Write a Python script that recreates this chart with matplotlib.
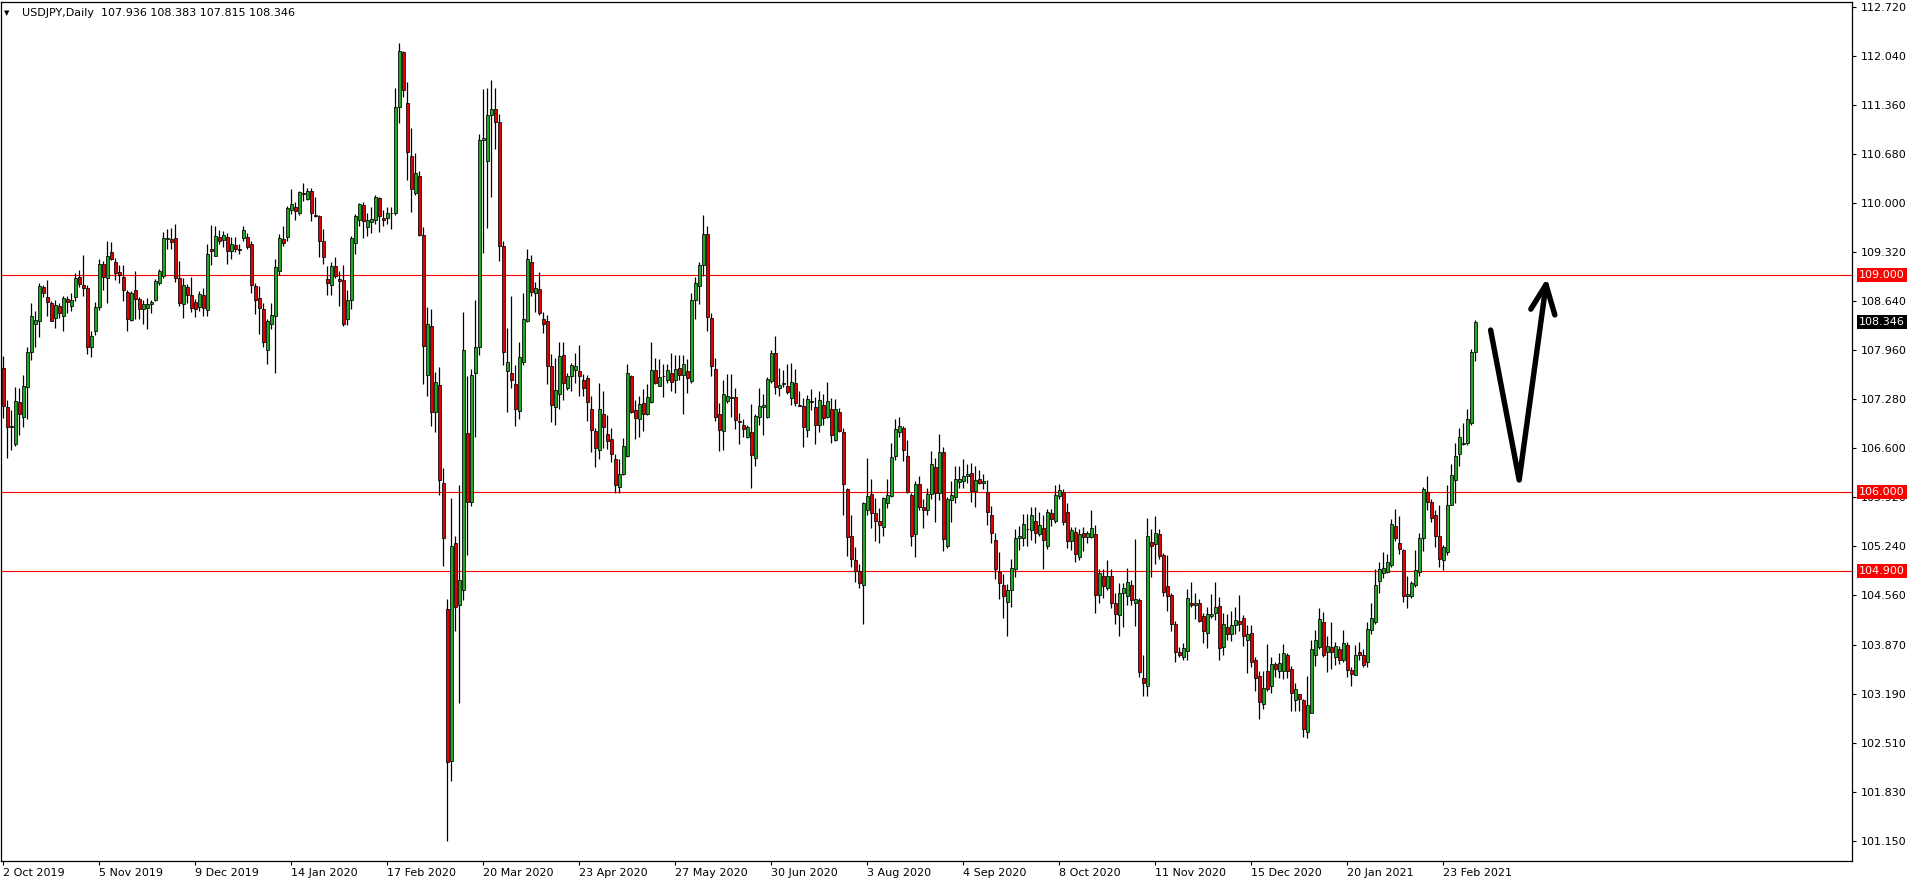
#!/usr/bin/env python
"""USDJPY daily candles (Oct 2019 - Mar 2021), MT4-style chart with S/R levels."""
import matplotlib

matplotlib.use("Agg")
import matplotlib.pyplot as plt
import numpy as np
import pandas as pd

# --- data (one entry per daily bar) ---
open_ = [
    107.71, 107.17, 106.89, 106.66, 107.24, 107.03, 107.45, 107.94, 108.33, 108.37,
    108.84, 108.70, 108.61, 108.41, 108.57, 108.44, 108.67, 108.58, 108.70, 108.98,
    108.86, 108.83, 108.00, 108.22, 108.56, 109.15, 108.96, 109.32, 109.18, 109.05,
    108.98, 108.77, 108.38, 108.79, 108.67, 108.53, 108.54, 108.60, 108.66, 108.89,
    108.99, 109.50, 109.50, 109.51, 108.96, 108.60, 108.84, 108.73,
    108.63, 108.56, 108.72, 108.52, 109.36, 109.27, 109.53, 109.49, 109.53, 109.33,
    109.42, 109.36, 109.51, 109.53, 109.43, 108.85, 108.68, 108.53, 107.97, 108.32,
    108.43, 109.06, 109.50, 109.53, 109.90, 109.95, 109.86, 110.14, 110.06, 110.17,
    109.83, 109.82, 109.47, 108.95, 108.86, 109.13, 108.95, 108.93, 108.39, 108.66,
    109.45, 109.76, 109.97, 109.67, 109.74, 109.77,
    110.07, 109.80, 109.80, 109.86, 109.86, 111.33, 112.09, 111.39, 110.65, 110.14,
    110.37, 109.56, 107.62, 108.29, 107.11, 107.48, 106.12, 104.37, 102.26, 105.29,
    104.42, 104.64, 106.81, 105.85, 107.64, 108.00, 110.88, 110.58, 111.22, 111.31,
    111.13, 109.40, 107.67, 107.65, 107.49, 107.12, 107.80, 108.36, 109.18, 108.75,
    108.81, 108.40, 108.37, 107.74, 107.17, 107.35, 107.89,
    107.44, 107.60, 107.68, 107.67, 107.55, 107.57, 107.14, 106.84, 106.58, 107.07,
    106.80, 106.73, 106.45, 106.07, 106.25, 106.50, 107.60, 107.13, 107.00, 107.23,
    107.07, 107.24, 107.68, 107.47, 107.60, 107.55, 107.64, 107.55, 107.71, 107.61,
    107.67, 107.53, 108.65, 108.85, 109.14, 109.57, 108.41, 107.70, 107.07, 106.84,
    107.25, 107.31, 107.31, 106.98, 106.93, 106.75,
    106.82, 106.47, 107.04, 107.17, 107.03, 107.54, 107.92, 107.43, 107.49, 107.46,
    107.30, 107.50, 107.20, 107.18, 106.86, 107.24, 107.17, 106.92, 107.20, 107.03,
    107.14, 106.72, 107.11, 106.82, 106.03, 105.39, 105.05, 104.90, 104.70, 105.74,
    105.96, 105.70, 105.59, 105.51, 105.84, 105.94, 106.50, 106.82, 106.88, 106.50,
    105.95, 105.41, 106.10, 105.78, 105.75, 105.96,
    106.34, 105.98, 106.55, 105.25, 105.88, 105.93, 106.13, 106.15, 106.22, 106.26,
    106.01, 106.17, 106.12, 106.00, 105.67, 105.33, 104.89, 104.71, 104.47, 104.63,
    104.92, 105.35, 105.36, 105.48, 105.46, 105.59, 105.41, 105.49, 105.25, 105.70,
    105.59, 105.94, 105.99, 105.71, 105.31, 105.44, 105.09, 105.42, 105.37, 105.37,
    105.41, 104.56, 104.83, 104.66, 104.83, 104.45, 104.29,
    104.59, 104.55, 104.71, 104.45, 104.49, 103.41, 103.31, 105.30, 105.27, 105.41,
    105.12, 104.69, 104.56, 104.17, 103.78, 103.71, 103.79, 104.46, 104.42, 104.45,
    104.27, 104.04, 104.27, 104.31, 104.41, 103.84, 104.12, 104.02, 104.15, 104.20,
    104.24, 103.94, 104.04, 103.66, 103.44, 103.06, 103.51, 103.30, 103.61, 103.51,
    103.51, 103.74, 103.54, 103.11, 103.19, 103.11,
    102.66, 102.93, 103.74, 103.85, 104.19, 103.77, 103.84, 103.70, 103.81, 103.67,
    103.87, 103.53, 103.45, 103.78, 103.73, 103.63, 104.08, 104.19, 104.76, 104.87,
    104.89, 104.98, 105.52, 105.28, 105.19, 104.55, 104.55, 104.70, 104.89, 105.35,
    105.99, 105.85, 105.67, 105.38, 105.05, 105.16, 105.81, 106.16, 106.52, 106.66,
    106.67, 106.95, 107.936,
]
high = [
    107.88, 107.27, 107.13, 107.45, 107.43, 107.62, 108.01, 108.61, 108.51, 108.89,
    108.87, 108.94, 108.64, 108.66, 108.61, 108.71, 108.71, 108.76, 109.03, 109.07,
    109.28, 108.87, 108.22, 108.63, 109.22, 109.20, 109.47, 109.46, 109.24, 109.14,
    109.14, 108.80, 108.78, 109.06, 108.70, 108.66, 108.68, 108.65, 108.95, 109.08,
    109.60, 109.64, 109.65, 109.71, 109.20, 108.96, 108.88, 108.98,
    108.67, 108.78, 108.83, 109.43, 109.70, 109.68, 109.63, 109.61, 109.59, 109.53,
    109.53, 109.43, 109.68, 109.59, 109.47, 108.89, 108.85, 108.61, 108.40, 108.61,
    109.22, 109.57, 109.68, 109.96, 110.20, 110.01, 110.17, 110.28, 110.21, 110.21,
    110.09, 109.83, 109.64, 109.13, 109.18, 109.25, 109.06, 109.14, 108.79, 109.54,
    109.85, 110.00, 110.01, 109.86, 109.95, 110.12,
    110.09, 109.91, 109.95, 109.95, 111.60, 112.22, 112.11, 111.68, 111.04, 110.69,
    110.45, 109.67, 108.56, 108.53, 107.66, 107.73, 106.32, 104.51, 105.91, 105.38,
    106.09, 108.49, 107.60, 107.70, 108.65, 110.96, 111.58, 111.60, 111.71, 111.60,
    111.24, 109.47, 108.27, 108.71, 107.76, 108.08, 108.75, 109.36, 109.28, 108.91,
    109.05, 108.49, 108.45, 107.91, 107.85, 108.07, 108.07,
    107.64, 107.78, 107.92, 108.03, 107.63, 107.62, 107.32, 106.88, 107.50, 107.39,
    107.06, 106.88, 106.52, 106.45, 106.74, 107.77, 107.61, 107.27, 107.32, 107.42,
    107.49, 108.08, 107.85, 107.84, 107.77, 107.77, 107.92, 107.89, 107.89, 107.89,
    107.84, 108.75, 108.97, 109.18, 109.84, 109.68, 108.47, 107.85, 107.23, 107.55,
    107.63, 107.63, 107.43, 107.09, 107.01, 106.93,
    107.22, 107.07, 107.43, 107.35, 107.59, 107.97, 108.16, 107.71, 107.69, 107.77,
    107.78, 107.70, 107.39, 107.30, 107.34, 107.42, 107.31, 107.39, 107.35, 107.52,
    107.30, 107.28, 107.16, 106.88, 106.05, 105.67, 105.23, 105.00, 105.86, 106.47,
    106.18, 105.91, 105.77, 105.92, 106.18, 106.67, 107.01, 107.03, 106.91, 106.72,
    105.98, 106.15, 106.21, 105.89, 106.05, 106.56,
    106.46, 106.80, 106.62, 105.92, 106.14, 106.35, 106.35, 106.45, 106.38, 106.40,
    106.36, 106.30, 106.25, 106.16, 105.80, 105.42, 105.16, 104.85, 104.72, 105.06,
    105.48, 105.52, 105.69, 105.69, 105.79, 105.79, 105.71, 105.67, 105.76, 105.76,
    106.09, 106.11, 106.03, 105.84, 105.51, 105.51, 105.48, 105.51, 105.45, 105.74,
    105.53, 104.92, 104.92, 105.05, 104.92, 104.59, 104.73,
    104.73, 104.94, 104.78, 105.34, 104.53, 103.74, 105.63, 105.48, 105.66, 105.48,
    105.15, 105.12, 104.59, 104.20, 103.84, 103.90, 104.65, 104.74, 104.59, 104.51,
    104.31, 104.40, 104.58, 104.74, 104.54, 104.31, 104.30, 104.35, 104.40, 104.56,
    104.29, 104.15, 104.15, 103.71, 103.51, 103.51, 103.88, 103.71, 103.64, 103.76,
    103.88, 103.76, 103.58, 103.34, 103.19, 103.12,
    103.44, 103.94, 104.08, 104.39, 104.33, 104.00, 104.19, 103.91, 103.86, 104.08,
    103.91, 103.57, 103.87, 103.92, 103.81, 104.19, 104.46, 104.92, 105.02, 105.16,
    105.14, 105.62, 105.76, 105.66, 105.21, 104.83, 104.76, 105.19, 105.42, 106.07,
    106.21, 105.89, 105.74, 105.82, 105.26, 106.09, 106.38, 106.67, 106.88, 106.95,
    107.14, 107.98, 108.383,
]
low = [
    107.02, 106.47, 106.58, 106.63, 106.79, 106.90, 107.01, 107.83, 108.01, 108.14,
    108.70, 108.43, 108.36, 108.27, 108.41, 108.23, 108.48, 108.51, 108.64, 108.84,
    108.71, 107.91, 107.87, 108.17, 108.52, 108.80, 108.62, 109.21, 108.94, 108.89,
    108.64, 108.22, 108.36, 108.40, 108.40, 108.33, 108.26, 108.47, 108.64, 108.86,
    108.96, 109.37, 109.36, 108.90, 108.58, 108.41, 108.61, 108.49,
    108.42, 108.50, 108.43, 108.44, 109.14, 109.27, 109.43, 109.39, 109.16, 109.23,
    109.32, 109.29, 109.48, 109.37, 108.75, 108.46, 108.19, 108.01, 107.77, 108.25,
    107.65, 109.00, 109.41, 109.48, 109.85, 109.77, 109.83, 110.03, 110.05, 109.75,
    109.81, 109.25, 109.15, 108.72, 108.73, 108.96, 108.57, 108.29, 108.31, 108.53,
    109.29, 109.69, 109.52, 109.54, 109.59, 109.71,
    109.60, 109.69, 109.71, 109.64, 109.84, 111.11, 111.47, 110.32, 109.88, 110.11,
    109.55, 107.49, 107.33, 106.91, 106.82, 105.95, 104.97, 101.15, 101.98, 104.07,
    103.07, 104.49, 105.12, 105.80, 106.75, 107.90, 109.31, 109.65, 110.08, 110.75,
    109.20, 107.76, 107.11, 107.44, 106.91, 107.00, 107.76, 108.35, 108.71, 108.49,
    108.45, 108.20, 107.49, 106.96, 106.93, 107.15, 107.27,
    107.41, 107.40, 107.50, 107.33, 107.33, 106.98, 106.55, 106.34, 106.45, 106.60,
    106.59, 106.41, 105.98, 105.98, 106.23, 106.48, 107.09, 106.73, 106.76, 106.84,
    107.06, 107.23, 107.49, 107.46, 107.31, 107.50, 107.39, 107.37, 107.55, 107.07,
    107.37, 107.50, 108.40, 108.60, 108.99, 108.22, 107.60, 106.98, 106.56, 106.57,
    107.23, 107.04, 106.87, 106.66, 106.75, 106.74,
    106.05, 106.36, 106.92, 106.78, 107.02, 107.50, 107.35, 107.32, 107.45, 107.36,
    107.20, 107.18, 107.18, 106.62, 106.76, 107.13, 106.66, 106.83, 106.93, 107.02,
    106.67, 106.70, 106.82, 105.67, 105.10, 104.95, 104.74, 104.66, 104.17, 105.68,
    105.49, 105.31, 105.28, 105.39, 105.77, 105.93, 106.44, 106.76, 106.42, 105.98,
    105.25, 105.09, 105.75, 105.49, 105.67, 105.89,
    105.58, 105.88, 105.18, 105.22, 105.58, 105.84, 106.05, 106.05, 106.12, 105.85,
    105.78, 106.11, 106.04, 105.53, 105.28, 104.79, 104.51, 104.25, 103.99, 104.40,
    104.82, 105.19, 105.25, 105.25, 105.33, 105.28, 105.39, 104.93, 105.20, 105.52,
    105.57, 105.89, 105.53, 105.22, 105.19, 105.02, 105.05, 105.17, 105.28, 105.35,
    104.32, 104.46, 104.52, 104.64, 104.38, 104.17, 104.00,
    104.12, 104.42, 104.42, 104.13, 103.43, 103.16, 103.17, 104.81, 104.99, 105.06,
    104.55, 104.35, 104.06, 103.64, 103.71, 103.67, 103.67, 104.40, 104.23, 104.19,
    103.90, 103.83, 104.24, 104.22, 103.66, 103.73, 103.94, 103.93, 104.02, 104.06,
    103.86, 103.49, 103.57, 103.24, 102.85, 102.99, 103.24, 103.20, 103.43, 103.41,
    103.40, 103.41, 102.95, 102.95, 102.95, 102.59,
    102.58, 102.93, 103.58, 103.82, 103.70, 103.50, 103.54, 103.60, 103.61, 103.64,
    103.43, 103.31, 103.45, 103.67, 103.57, 103.56, 104.03, 104.17, 104.59, 104.80,
    104.87, 104.96, 105.32, 105.14, 104.47, 104.39, 104.53, 104.67, 104.83, 105.17,
    105.75, 105.58, 105.23, 104.96, 104.91, 105.12, 105.81, 105.84, 106.35, 106.64,
    106.64, 106.92, 107.815,
]
close = [
    107.18, 106.89, 106.91, 107.25, 107.07, 107.46, 107.93, 108.43, 108.38, 108.85,
    108.75, 108.63, 108.37, 108.59, 108.47, 108.69, 108.63, 108.65, 108.96, 108.88,
    108.83, 108.00, 108.16, 108.56, 109.15, 108.97, 109.27, 109.22, 109.03, 109.01,
    108.79, 108.39, 108.75, 108.67, 108.53, 108.60, 108.60, 108.63, 108.92, 109.06,
    109.51, 109.51, 109.46, 108.96, 108.62, 108.86, 108.73, 108.54,
    108.53, 108.74, 108.54, 109.29, 109.33, 109.54, 109.47, 109.56, 109.33, 109.43,
    109.37, 109.35, 109.63, 109.39, 108.86, 108.65, 108.54, 108.07, 108.36, 108.45,
    109.11, 109.51, 109.45, 109.93, 109.99, 109.89, 110.15, 110.13, 110.17, 109.86,
    109.82, 109.47, 109.25, 108.89, 109.13, 108.99, 108.92, 108.32, 108.66, 109.52,
    109.82, 109.99, 109.75, 109.77, 109.78, 110.08,
    109.82, 109.76, 109.87, 109.87, 111.34, 112.11, 111.57, 110.71, 110.20, 110.42,
    109.56, 108.02, 108.33, 107.11, 107.52, 106.16, 105.35, 102.25, 105.24, 104.40,
    104.78, 107.97, 105.85, 107.62, 108.00, 110.88, 110.91, 111.22, 111.31, 111.12,
    109.41, 107.93, 107.80, 107.55, 107.15, 107.86, 108.40, 109.23, 108.77, 108.82,
    108.47, 108.32, 107.74, 107.20, 107.41, 107.88, 107.51,
    107.60, 107.75, 107.74, 107.60, 107.43, 107.24, 106.85, 106.60, 107.14, 106.89,
    106.70, 106.52, 106.09, 106.25, 106.63, 107.64, 107.11, 107.02, 107.21, 107.07,
    107.31, 107.68, 107.50, 107.59, 107.60, 107.68, 107.52, 107.70, 107.61, 107.77,
    107.57, 108.65, 108.89, 109.14, 109.57, 108.42, 107.74, 107.04, 106.85, 107.35,
    107.32, 107.30, 106.99, 106.96, 106.87, 106.89,
    106.51, 107.05, 107.18, 107.20, 107.56, 107.92, 107.45, 107.48, 107.50, 107.38,
    107.52, 107.23, 107.18, 106.90, 107.28, 107.26, 106.93, 107.27, 107.02, 107.25,
    106.78, 107.14, 106.84, 106.11, 105.37, 105.06, 104.90, 104.73, 105.84, 105.94,
    105.70, 105.59, 105.53, 105.91, 105.95, 106.48, 106.87, 106.91, 106.57, 105.99,
    105.39, 106.10, 105.78, 105.75, 105.96, 106.38,
    105.98, 106.55, 105.34, 105.89, 105.95, 106.17, 106.17, 106.22, 106.25, 106.01,
    106.16, 106.12, 106.14, 105.71, 105.42, 104.93, 104.73, 104.55, 104.63, 104.94,
    105.35, 105.39, 105.55, 105.48, 105.67, 105.42, 105.53, 105.33, 105.71, 105.62,
    105.95, 106.02, 105.58, 105.31, 105.46, 105.14, 105.41, 105.37, 105.42, 105.49,
    104.57, 104.87, 104.69, 104.83, 104.45, 104.30, 104.59,
    104.66, 104.74, 104.49, 104.51, 103.50, 103.34, 105.38, 105.24, 105.42, 105.10,
    104.60, 104.55, 104.17, 103.78, 103.73, 103.83, 104.53, 104.42, 104.45, 104.21,
    104.06, 104.30, 104.30, 104.40, 103.83, 104.17, 104.03, 104.15, 104.22, 104.17,
    103.99, 104.02, 103.63, 103.41, 103.08, 103.27, 103.26, 103.61, 103.54, 103.62,
    103.76, 103.51, 103.20, 103.26, 103.12, 102.70,
    103.04, 103.81, 103.94, 104.23, 103.74, 103.86, 103.78, 103.86, 103.67, 103.90,
    103.52, 103.47, 103.74, 103.74, 103.60, 104.10, 104.24, 104.70, 104.92, 104.94,
    105.02, 105.55, 105.35, 105.21, 104.55, 104.58, 104.73, 104.91, 105.35, 106.03,
    105.85, 105.64, 105.39, 105.06, 105.23, 105.82, 106.23, 106.50, 106.75, 106.67,
    107.00, 107.93, 108.346,
]

holidays = ["2019-12-25", "2020-01-01", "2020-12-25", "2021-01-01"]
date_labels = ["2 Oct 2019", "5 Nov 2019", "9 Dec 2019", "14 Jan 2020", "17 Feb 2020",
               "20 Mar 2020", "23 Apr 2020", "27 May 2020", "30 Jun 2020", "3 Aug 2020",
               "4 Sep 2020", "8 Oct 2020", "11 Nov 2020", "15 Dec 2020", "20 Jan 2021",
               "23 Feb 2021"]
price_ticks = [112.720, 112.040, 111.360, 110.680, 110.000, 109.320, 108.640, 107.960,
               107.280, 106.600, 105.920, 105.240, 104.560, 103.870, 103.190, 102.510,
               101.830, 101.150]
levels = [109.000, 106.000, 104.900]

# hand-drawn "down then up" arrow, in (bar, price) units
arrow_bar = [371.85, 378.99, 385.7]
arrow_price = [108.24, 106.16, 108.87]
head_bar = [381.9, 385.7, 387.9]
head_price = [108.53, 108.87, 108.45]

BULL = "#1fa81f"
BEAR = "#e00000"
FONT = "DejaVu Sans"

dates = pd.bdate_range("2019-10-02", "2021-03-05")
dates = dates[~dates.isin(pd.to_datetime(holidays))]

o = np.array(open_)
h = np.array(high)
l = np.array(low)
c = np.array(close)
assert len(o) == len(h) == len(l) == len(c) == len(dates), (len(o), len(h), len(l), len(c), len(dates))
x = np.arange(len(dates))

W, H = 1916, 884
fig = plt.figure(figsize=(W / 100, H / 100), dpi=100)
fig.patch.set_facecolor("white")
ax = fig.add_axes([1 / W, 23 / H, 1851 / W, 859 / H])

# support / resistance levels
for lv in levels:
    ax.axhline(lv, color="#ff0000", lw=0.8, zorder=1.5)

# wicks then bodies
ax.vlines(x, l, h, color="black", lw=0.9, zorder=2)
up = c >= o
body_lo = np.minimum(o, c)
body_h = np.maximum(np.abs(c - o), 0.004)
ax.bar(x[up], body_h[up], bottom=body_lo[up], width=0.8, color=BULL,
       edgecolor="black", linewidth=0.55, zorder=3)
ax.bar(x[~up], body_h[~up], bottom=body_lo[~up], width=0.8, color=BEAR,
       edgecolor="black", linewidth=0.55, zorder=3)

# arrow annotation
ax.plot(arrow_bar, arrow_price, color="black", lw=3.9, solid_capstyle="round",
        solid_joinstyle="round", zorder=5)
ax.plot(head_bar, head_price, color="black", lw=3.9, solid_capstyle="round",
        solid_joinstyle="round", zorder=5)

ax.set_xlim(-0.575, 462.2)
ax.set_ylim(100.876, 112.79)

# price scale on the right
ax.yaxis.tick_right()
ax.set_yticks(price_ticks)
ax.set_yticklabels([f"{v:.3f}" for v in price_ticks])
ax.tick_params(axis="y", direction="out", length=3, width=0.8, pad=3,
               labelsize=8, labelcolor="black")

# dates along the bottom, left-aligned at their bar
tick_pos = [dates.get_loc(pd.to_datetime(s, format="%d %b %Y")) for s in date_labels]
ax.set_xticks(tick_pos)
ax.set_xticklabels(date_labels)
ax.tick_params(axis="x", direction="out", length=3, width=0.8, pad=2, labelsize=8)
for t in ax.get_xticklabels():
    t.set_horizontalalignment("left")
    t.set_fontfamily(FONT)
for t in ax.get_yticklabels():
    t.set_fontfamily(FONT)

for sp in ax.spines.values():
    sp.set_color("black")
    sp.set_linewidth(0.9)

# level tags and last price tag on the price scale
tr = ax.get_yaxis_transform()
for lv in levels:
    ax.text(1.0038, lv, f"{lv:.3f}", transform=tr, ha="left", va="center", fontsize=8,
            family=FONT, color="white", zorder=10, clip_on=False,
            bbox=dict(boxstyle="square,pad=0.18", fc="#ff0000", ec="none"))
ax.text(1.0038, c[-1], f"{c[-1]:.3f}", transform=tr, ha="left", va="center", fontsize=8,
        family=FONT, color="white", zorder=10, clip_on=False,
        bbox=dict(boxstyle="square,pad=0.18", fc="black", ec="none"))

# header
fig.text(4 / W, 1 - 13 / H, "\u25bc", fontsize=5, ha="left", va="center", family=FONT)
fig.text(21.5 / W, 1 - 13 / H,
         f"USDJPY,Daily  {o[-1]:.3f} {h[-1]:.3f} {l[-1]:.3f} {c[-1]:.3f}",
         fontsize=8, ha="left", va="center", family=FONT)

fig.savefig("out.png", dpi=100, facecolor="white")
